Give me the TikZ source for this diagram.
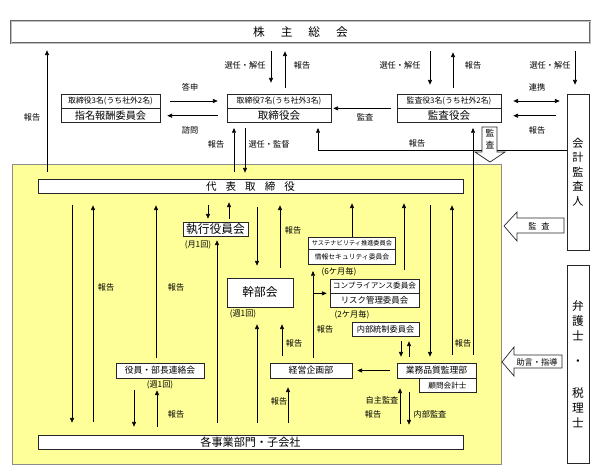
\documentclass[tikz,border=0pt]{standalone}
\usepackage{fontspec}
\setmainfont{Noto Sans CJK JP}
\usetikzlibrary{arrows.meta,positioning,calc}
\definecolor{areafill}{RGB}{255,255,153}

\begin{document}
\begin{tikzpicture}[x=0.03cm, y=-0.03cm,
  arr/.style={-{Triangle[length=1.4mm,width=1.2mm]}, line width=0.5pt},
  dbl/.style={{Triangle[length=1.4mm,width=1.2mm]}-{Triangle[length=1.4mm,width=1.2mm]}, line width=0.5pt},
  box/.style={draw=black!85, fill=white, inner sep=0pt, line width=0.6pt, align=center},
  lbl/.style={font=\fontsize{7}{8}\selectfont, inner sep=0pt},
  hollow/.style={draw=black!85, fill=white, line width=0.6pt}]
\useasboundingbox (0,0) rectangle (601,475);

\node[draw=black!60, double=black!25, double distance=0.8pt, line width=0.6pt, fill=white,
  minimum width=17.37cm, minimum height=0.66cm, inner sep=0pt,
  font=\fontsize{10}{12}\selectfont] (sh) at (300.5,32)
  {株\hspace{13.6pt}主\hspace{13.6pt}総\hspace{13.6pt}会};

\node[box, minimum width=2.97cm, minimum height=0.42cm, font=\fontsize{6.7}{8}\selectfont] (nomT) at (110.5,101) {取締役3名(うち社外2名)};
\node[box, below=0pt of nomT, minimum width=2.97cm, minimum height=0.42cm, font=\fontsize{8.7}{10}\selectfont] (nomB) {指名報酬委員会};
\node[box, minimum width=3.12cm, minimum height=0.42cm, font=\fontsize{6.7}{8}\selectfont] (bodT) at (279,101) {取締役7名(うち社外3名)};
\node[box, below=0pt of bodT, minimum width=3.12cm, minimum height=0.42cm, font=\fontsize{9}{10}\selectfont] (bodB) {取締役会};
\node[box, minimum width=3.12cm, minimum height=0.42cm, font=\fontsize{6.7}{8}\selectfont] (kanT) at (449,101) {監査役3名(うち社外2名)};
\node[box, below=0pt of kanT, minimum width=3.12cm, minimum height=0.42cm, font=\fontsize{9}{10}\selectfont] (kanB) {監査役会};

\node[box, minimum width=0.66cm, minimum height=4.68cm, font=\fontsize{9.5}{12.4}\selectfont] (aud) at (578,172) {会\\計\\監\\査\\人};
\node[box, minimum width=0.66cm, minimum height=5.94cm, font=\fontsize{10}{12.8}\selectfont] (law) at (578,364) {弁\\護\\士\\[9pt]・\\[14pt]税\\理\\士};

\node[draw=black!45, fill=areafill, line width=0.6pt, minimum width=14.67cm, minimum height=9cm, inner sep=0pt] (area) at (256.5,314) {};

\node[box, minimum width=12.75cm, minimum height=0.42cm, font=\fontsize{9}{10}\selectfont] (rep) at (250.5,186)
  {代\hspace{7.7pt}表\hspace{7.7pt}取\hspace{7.7pt}締\hspace{7.7pt}役};
\node[box, minimum width=12.75cm, minimum height=0.42cm, font=\fontsize{9.5}{11}\selectfont] (biz) at (250.5,442) {各事業部門・子会社};

\node[box, minimum width=1.95cm, minimum height=0.42cm, font=\fontsize{10}{11}\selectfont] (exe) at (215.5,229) {執行役員会};
\node[box, minimum width=1.98cm, minimum height=0.87cm, font=\fontsize{10}{11}\selectfont] (mgt) at (260,292.5) {幹部会};
\node[box, minimum width=2.64cm, minimum height=0.45cm, font=\fontsize{7.5}{9}\selectfont] (liai) at (160,370.5) {役員・部長連絡会};
\node[box, minimum width=2.46cm, minimum height=0.45cm, font=\fontsize{7.6}{9}\selectfont] (plan) at (311,370.5) {経営企画部};
\node[box, minimum width=2.37cm, minimum height=0.45cm, font=\fontsize{7.5}{9}\selectfont] (qa) at (436.5,370.5) {業務品質監理部};
\node[box, anchor=north, minimum width=1.71cm, minimum height=0.42cm, font=\fontsize{6.5}{8}\selectfont] (cpa) at (447.5,378) {顧問会計士};
\node[box, minimum width=2.01cm, minimum height=0.42cm, font=\fontsize{7}{8}\selectfont] (ic) at (385.5,329) {内部統制委員会};
\node[box, minimum width=2.61cm, minimum height=0.36cm, font=\fontsize{5.3}{6}\selectfont] (susT) at (352,243) {サステナビリティ推進委員会};
\node[box, below=0pt of susT, minimum width=2.61cm, minimum height=0.45cm, font=\fontsize{5.8}{7}\selectfont] (susB) {情報セキュリティ委員会};
\node[box, minimum width=2.67cm, minimum height=0.42cm, font=\fontsize{6.5}{8}\selectfont] (compT) at (374.5,286) {コンプライアンス委員会};
\node[box, below=0pt of compT, minimum width=2.67cm, minimum height=0.42cm, font=\fontsize{7.2}{8}\selectfont] (compB) {リスク管理委員会};

\draw[arr, shorten <=0.21cm, shorten >=0.21cm] (47,0 |- rep.north) -- (47,0 |- sh.south);
\draw[arr, shorten <=0.3cm, shorten >=0.27cm] (nomT.east) -- (bodT.west);
\draw[arr, shorten <=0.27cm, shorten >=0.21cm] (bodB.west) -- (nomB.east);
\draw[arr, shorten <=0.24cm, shorten >=0.33cm] (271,0 |- sh.south) -- (271,0 |- bodT.north);
\draw[arr, shorten <=0.18cm, shorten >=0.24cm] (285,0 |- bodT.north) -- (285,0 |- sh.south);
\draw[arr, shorten <=0.21cm, shorten >=0.15cm] (234,0 |- rep.north) -- (234,0 |- bodB.south);
\draw[arr, shorten <=0.15cm, shorten >=0.18cm] (245,0 |- bodB.south) -- (245,0 |- rep.north);
\draw[arr, shorten <=0.24cm, shorten >=0.27cm] (430,0 |- sh.south) -- (430,0 |- kanT.north);
\draw[arr, shorten <=0.18cm, shorten >=0.27cm] (453,0 |- kanT.north) -- (453,0 |- sh.south);
\draw[arr, shorten <=0.18cm, shorten >=0.06cm] (kanT.south west) -- (bodT.south east);
\draw[arr, shorten <=0.24cm, shorten >=0.27cm] (575,0 |- sh.south) -- (575,0 |- aud.north);
\draw[dbl, shorten <=0.36cm, shorten >=0.21cm] (kanT.east) -- (kanT.east -| aud.west);
\draw[arr, shorten <=0.33cm, shorten >=0.36cm] (aud.west |- kanB.east) -- (kanB.east);
\draw[arr, shorten >=0.15cm] (aud.west |- 0,150) -| (318,0 |- bodB.south);
\draw[arr, shorten <=0.24cm, shorten >=0.15cm] (473,0 |- qa.north) -- (473,0 |- kanB.south);

\draw[arr, shorten <=0.36cm, shorten >=0.36cm] (72,0 |- rep.south) -- (72,0 |- biz.north);
\draw[arr, shorten <=0.39cm, shorten >=0.36cm] (93,0 |- biz.north) -- (93,0 |- rep.south);
\draw[arr, shorten <=0.15cm, shorten >=0.36cm] (156,0 |- liai.north) -- (156,0 |- rep.south);
\draw[arr, shorten <=0.36cm, shorten >=0.24cm] (134,0 |- liai.south) -- (134,0 |- biz.north);
\draw[arr, shorten <=0.24cm, shorten >=0.36cm] (157,0 |- biz.north) -- (157,0 |- liai.south);
\draw[arr, shorten <=0.36cm, shorten >=0.09cm] (208,0 |- rep.south) -- (208,0 |- exe.north);
\draw[arr, shorten <=0.09cm, shorten >=0.27cm] (229,0 |- exe.north) -- (229,0 |- rep.south);
\draw[arr, shorten <=0.36cm, shorten >=0.12cm] (217,0 |- biz.north) -- (217,0 |- exe.south);
\draw[arr, shorten <=0.42cm, shorten >=0.36cm] (257,0 |- rep.south) -- (257,0 |- mgt.north);
\draw[arr, shorten <=0.3cm, shorten >=0.36cm] (280,0 |- mgt.north) -- (280,0 |- rep.south);
\draw[arr, shorten <=0.36cm, shorten >=0.51cm] (257,0 |- biz.north) -- (257,0 |- mgt.south);
\draw[arr, shorten <=0.21cm, shorten >=0.51cm] (282,0 |- plan.north) -- (282,0 |- mgt.south);
\draw[arr, shorten <=0.36cm, shorten >=0.27cm] (288,0 |- biz.north) -- (288,0 |- plan.south);
\draw[arr, shorten <=0.15cm, shorten >=0.18cm] (313,0 |- plan.north) -- (313,0 |- susB.south);
\draw[arr, shorten >=0.09cm] (313,0 |- compT.south west) -- (compT.south west);
\draw[arr, shorten >=0.3cm] (352,0 |- susT.north) -- (352,0 |- rep.south);
\draw[arr, shorten <=0.27cm, shorten >=0.3cm] (404,0 |- compT.north) -- (404,0 |- rep.south);
\draw[arr, shorten <=0.36cm, shorten >=0.18cm] (430,0 |- rep.south) -- (430,0 |- qa.north);
\draw[arr, shorten <=0.24cm, shorten >=0.36cm] (452,0 |- qa.north) -- (452,0 |- rep.south);
\draw[arr, shorten <=0.15cm, shorten >=0.18cm] (401,0 |- ic.south) -- (401,0 |- qa.north);
\draw[arr, shorten <=0.18cm, shorten >=0.15cm] (409,0 |- qa.north) -- (409,0 |- ic.south);
\draw[arr, shorten <=0.21cm, shorten >=0.15cm] (qa.west) -- (plan.east);
\draw[arr, shorten <=0.33cm, shorten >=0.3cm] (400,0 |- biz.north) -- (400,0 |- qa.south);
\draw[arr, shorten <=0.42cm, shorten >=0.3cm] (409,0 |- qa.south) -- (409,0 |- biz.north);

\draw[hollow] (482,127) -- (497,127) -- (497,152) -- (505,152) -- (490,162) -- (475,152) -- (482,152) -- cycle;
\node[align=center, inner sep=0pt, font=\fontsize{7.5}{10}\selectfont] (kansaT) at (490,139) {監\\査};
\draw[hollow] (504,226) -- (517,212) -- (517,218) -- (564,218) -- (564,233) -- (517,233) -- (517,241) -- cycle;
\node[lbl] (kansaA) at (539,226) {監\hspace{4pt}査};
\draw[hollow] (502,362) -- (514,347) -- (514,355) -- (562,355) -- (562,368) -- (514,368) -- (514,376) -- cycle;
\node[lbl] (jogen) at (537,362) {助言・指導};

\node[lbl] (t1) at (32,117) {報告};
\node[lbl] (t2) at (190,87) {答申};
\node[lbl] (t3) at (190,130) {諮問};
\node[lbl] (t4) at (245,65) {選任・解任};
\node[lbl] (t5) at (302,65) {報告};
\node[lbl] (t6) at (216,144) {報告};
\node[lbl] (t7) at (269,144) {選任・監督};
\node[lbl] (t8) at (400,65) {選任・解任};
\node[lbl] (t9) at (473,65) {報告};
\node[lbl] (t10) at (365,117) {監査};
\node[lbl] (t11) at (550,65) {選任・解任};
\node[lbl] (t12) at (537,87) {連携};
\node[lbl] (t13) at (537,130) {報告};
\node[lbl] (t14) at (417,143) {報告};
\node[lbl] (t15) at (106,287) {報告};
\node[lbl] (t16) at (176,287) {報告};
\node[lbl] (t17) at (176,414) {報告};
\node[lbl] (t18) at (293,230) {報告};
\node[lbl] (t19) at (294,343) {報告};
\node[lbl] (t20) at (279,401) {報告};
\node[lbl] (t21) at (325,329) {報告};
\node[lbl] (t22) at (463,343) {報告};
\node[lbl] (t23) at (382,400) {自主監査};
\node[lbl] (t24) at (373,414) {報告};
\node[lbl] (t25) at (430,414) {内部監査};
\node[lbl] (t26) at (198,245) {(月1回)};
\node[lbl] (t27) at (243,314) {(週1回)};
\node[lbl] (t28) at (160,385) {(週1回)};
\node[lbl] (t29) at (339,272) {(6ケ月毎)};
\node[lbl] (t30) at (352,315) {(2ケ月毎)};
\end{tikzpicture}
\end{document}
